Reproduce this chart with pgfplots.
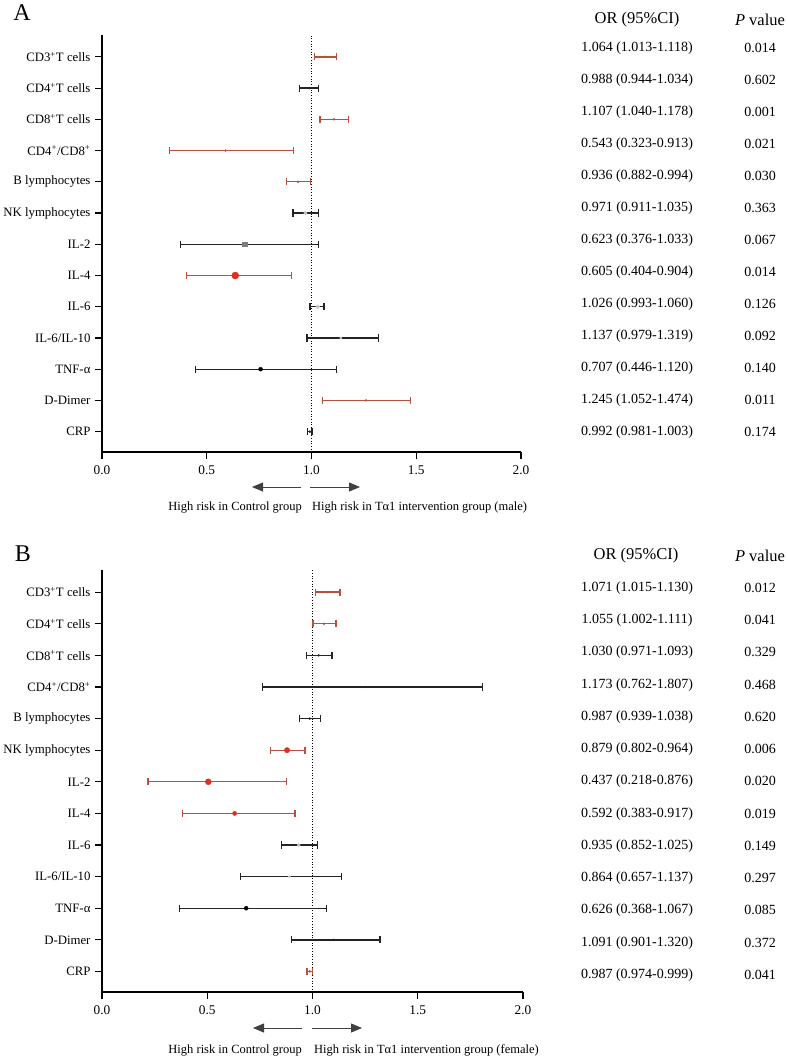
\documentclass[border=0pt]{standalone}
\usepackage{fontspec}
\setmainfont{Liberation Serif}
\usepackage{pgfplots}
\pgfplotsset{compat=1.18}
\usetikzlibrary{arrows.meta}

\definecolor{cired}{RGB}{185,80,62}
\definecolor{ptred}{RGB}{222,48,30}
\definecolor{ciblk}{RGB}{35,35,35}
\definecolor{ptgray}{RGB}{125,125,125}
\definecolor{ltgray}{RGB}{195,195,195}

\newcommand{\ci}[4]{\addplot[#1, line width=1.3pt, mark=|, mark size=3.6pt, mark options={solid, line width=1.3pt}] coordinates {(#2,#4) (#3,#4)};}
\newcommand{\pt}[4]{\addplot[only marks, mark=#1, mark size=#2, color=#3] coordinates {#4};}

\pgfplotsset{forest/.style={
  scale only axis, clip=false,
  xmin=0, xmax=2, ymin=-0.65, ymax=12.7,
  axis x line*=bottom, axis y line*=left,
  axis line style={line width=1.2pt, black},
  xtick={0,0.5,1,1.5,2}, xticklabels={0.0,0.5,1.0,1.5,2.0},
  ytick={0,1,...,12},
  yticklabels={CRP, D-Dimer, TNF-α, IL-6/IL-10, IL-6, IL-4, IL-2, NK lymphocytes, B lymphocytes, {CD4\textsuperscript{+}/CD8\textsuperscript{+}}, {CD8\textsuperscript{+}T cells}, {CD4\textsuperscript{+}T cells}, {CD3\textsuperscript{+}T cells}},
  tick align=outside, major tick length=7pt,
  tick style={line width=1.2pt, black},
  yticklabel style={font=\fontsize{12.8}{14}\selectfont, xshift=-1pt},
  xticklabel style={font=\fontsize{13.3}{15}\selectfont, yshift=-3pt},
}}

\newcommand{\tabrow}[3]{%
  \node[font=\fontsize{14}{16}\selectfont, anchor=center] at (637pt,-#1pt) {#2};
  \node[font=\fontsize{14}{16}\selectfont, anchor=center] at (760pt,-#1pt) {#3};}

\begin{document}
\begin{tikzpicture}
\useasboundingbox (0,0) rectangle (787pt,-1060pt);

% ---------------- Panel A ----------------
\node[font=\fontsize{24}{26}\selectfont, anchor=center] at (22pt,-13pt) {A};
\begin{axis}[forest, at={(102pt,-452pt)}, anchor=south west, width=419pt, height=417pt]
\addplot[dotted, line width=0.7pt, black] coordinates {(1,-0.65) (1,12.7)};
\ci{cired}{1.013}{1.118}{12}
\ci{ciblk}{0.944}{1.034}{11}
\ci{cired}{1.040}{1.178}{10}
\ci{cired}{0.323}{0.913}{9}
\ci{cired}{0.882}{0.994}{8}
\ci{ciblk}{0.911}{1.035}{7}
\ci{ciblk}{0.376}{1.033}{6}
\ci{cired}{0.404}{0.904}{5}
\ci{ciblk}{0.993}{1.060}{4}
\ci{ciblk}{0.979}{1.319}{3}
\ci{ciblk}{0.446}{1.120}{2}
\ci{cired}{1.052}{1.474}{1}
\ci{ciblk}{0.981}{1.003}{0}
\pt{*}{1pt}{cired}{(1.064,12) (1.107,10) (0.59,9) (0.936,8) (1.26,1)}
\pt{*}{1pt}{ciblk}{(0.988,11) (0.992,0)}
\pt{*}{1.8pt}{ltgray}{(0.971,7) (1.03,4)}
\pt{*}{1.2pt}{ltgray}{(1.14,3)}
\pt{square*}{2.3pt}{ptgray}{(0.68,6)}
\pt{*}{3.5pt}{ptred}{(0.636,5)}
\pt{*}{2pt}{black}{(0.757,2)}
\end{axis}
\draw[line width=0.8pt, black!75, -{Triangle[length=11pt,width=9pt]}] (301pt,-487pt) -- (252pt,-487pt);
\draw[line width=0.8pt, black!75, -{Triangle[length=11pt,width=9pt]}] (310pt,-487pt) -- (360pt,-487pt);
\node[font=\fontsize{12.5}{14}\selectfont, anchor=east, inner sep=0pt] at (302pt,-508pt) {High risk in Control group};
\node[font=\fontsize{12.5}{14}\selectfont, anchor=west, inner sep=0pt] at (312pt,-508pt) {High risk in Tα1 intervention group (male)};
\node[font=\fontsize{16.5}{18}\selectfont] at (637pt,-20pt) {OR (95\%CI)};
\node[font=\fontsize{16.5}{18}\selectfont] at (760pt,-20pt) {\textit{P} value};
\tabrow{48}{1.064 (1.013-1.118)}{0.014}
\tabrow{80}{0.988 (0.944-1.034)}{0.602}
\tabrow{112}{1.107 (1.040-1.178)}{0.001}
\tabrow{144}{0.543 (0.323-0.913)}{0.021}
\tabrow{176}{0.936 (0.882-0.994)}{0.030}
\tabrow{208}{0.971 (0.911-1.035)}{0.363}
\tabrow{240}{0.623 (0.376-1.033)}{0.067}
\tabrow{272}{0.605 (0.404-0.904)}{0.014}
\tabrow{304}{1.026 (0.993-1.060)}{0.126}
\tabrow{336}{1.137 (0.979-1.319)}{0.092}
\tabrow{368}{0.707 (0.446-1.120)}{0.140}
\tabrow{400}{1.245 (1.052-1.474)}{0.011}
\tabrow{432}{0.992 (0.981-1.003)}{0.174}

% ---------------- Panel B ----------------
\node[font=\fontsize{24}{26}\selectfont, anchor=center] at (23pt,-554pt) {B};
\begin{axis}[forest, at={(102pt,-992pt)}, anchor=south west, width=421pt, height=422pt]
\addplot[dotted, line width=0.7pt, black] coordinates {(1,-0.65) (1,12.7)};
\ci{cired}{1.015}{1.130}{12}
\ci{cired}{1.002}{1.111}{11}
\ci{ciblk}{0.971}{1.093}{10}
\ci{ciblk}{0.762}{1.807}{9}
\ci{ciblk}{0.939}{1.038}{8}
\ci{cired}{0.802}{0.964}{7}
\ci{cired}{0.218}{0.876}{6}
\ci{cired}{0.383}{0.917}{5}
\ci{ciblk}{0.852}{1.025}{4}
\ci{ciblk}{0.657}{1.137}{3}
\ci{ciblk}{0.368}{1.067}{2}
\ci{ciblk}{0.901}{1.320}{1}
\ci{cired}{0.974}{0.999}{0}
\pt{*}{1pt}{cired}{(1.07,12) (1.055,11) (0.987,0)}
\pt{*}{1pt}{ciblk}{(1.03,10) (1.25,9) (0.987,8) (1.10,1)}
\pt{*}{1.6pt}{ltgray}{(0.935,4)}
\pt{*}{1.1pt}{ltgray}{(0.89,3)}
\pt{*}{2.7pt}{ptred}{(0.879,7)}
\pt{*}{3pt}{ptred}{(0.505,6)}
\pt{*}{2.1pt}{ptred}{(0.63,5)}
\pt{*}{2pt}{black}{(0.685,2)}
\end{axis}
\draw[line width=0.8pt, black!75, -{Triangle[length=11pt,width=9pt]}] (302pt,-1028pt) -- (253pt,-1028pt);
\draw[line width=0.8pt, black!75, -{Triangle[length=11pt,width=9pt]}] (312pt,-1028pt) -- (362pt,-1028pt);
\node[font=\fontsize{12.5}{14}\selectfont, anchor=east, inner sep=0pt] at (302pt,-1050pt) {High risk in Control group};
\node[font=\fontsize{12.5}{14}\selectfont, anchor=west, inner sep=0pt] at (314pt,-1050pt) {High risk in Tα1 intervention group (female)};
\node[font=\fontsize{16.5}{18}\selectfont] at (636pt,-556pt) {OR (95\%CI)};
\node[font=\fontsize{16.5}{18}\selectfont] at (760pt,-556pt) {\textit{P} value};
\tabrow{588}{1.071 (1.015-1.130)}{0.012}
\tabrow{620}{1.055 (1.002-1.111)}{0.041}
\tabrow{652}{1.030 (0.971-1.093)}{0.329}
\tabrow{685}{1.173 (0.762-1.807)}{0.468}
\tabrow{717}{0.987 (0.939-1.038)}{0.620}
\tabrow{749}{0.879 (0.802-0.964)}{0.006}
\tabrow{781}{0.437 (0.218-0.876)}{0.020}
\tabrow{814}{0.592 (0.383-0.917)}{0.019}
\tabrow{846}{0.935 (0.852-1.025)}{0.149}
\tabrow{878}{0.864 (0.657-1.137)}{0.297}
\tabrow{910}{0.626 (0.368-1.067)}{0.085}
\tabrow{943}{1.091 (0.901-1.320)}{0.372}
\tabrow{975}{0.987 (0.974-0.999)}{0.041}
\end{tikzpicture}
\end{document}
